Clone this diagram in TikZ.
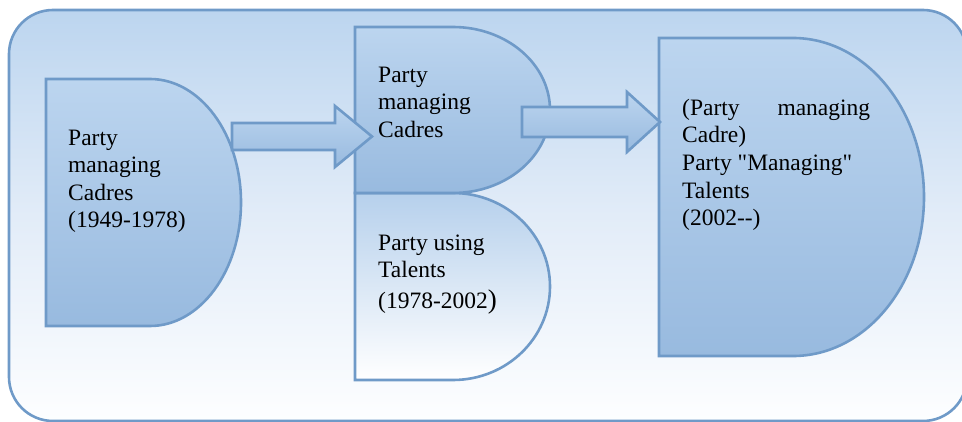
\documentclass[tikz,border=0pt]{standalone}
\usepackage{fontspec}
\setmainfont{Liberation Serif}[Ligatures=TeXOff]
\definecolor{edge}{HTML}{6F9AC8}
\definecolor{bgtop}{HTML}{BCD5EF}
\definecolor{bgmid}{HTML}{E2ECF8}
\definecolor{bgbot}{HTML}{FDFEFF}
\definecolor{dtop}{HTML}{BCD5EF}
\definecolor{dbot}{HTML}{98BADF}
\definecolor{ltop}{HTML}{B6D0EC}
\definecolor{lbot}{HTML}{FFFFFF}
\begin{document}
\begin{tikzpicture}[x=1pt,y=-1pt,
  outline/.style={draw=edge,line width=2.6pt,line join=miter},
  dfill/.style={top color=dtop,bottom color=dbot},
  lfill/.style={top color=ltop,bottom color=lbot},
  lbl/.style={anchor=north west,inner sep=0pt,align=left,text=black,
    font=\fontsize{23.5}{27.6}\selectfont}]
\useasboundingbox (0,0) rectangle (962,422);
% background panel
\draw[outline,rounded corners=44pt,top color=bgtop,bottom color=bgbot,middle color=bgmid]
  (9,10) rectangle (967,421);
% named corners of the shapes
\coordinate (d1) at (46,79);
\coordinate (d2) at (355,27);
\coordinate (d3) at (355,193);
\coordinate (d4) at (659,38);
% left D
\draw[outline,dfill] (d1) -- ++(104,0)
  arc[start angle=-90,end angle=90,x radius=91,y radius=123.5] -- ++(-104,0) -- cycle;
% middle bottom D
\draw[outline,lfill] (d3) -- ++(98,0)
  arc[start angle=-90,end angle=90,x radius=97,y radius=93.5] -- ++(-98,0) -- cycle;
% middle top D
\draw[outline,dfill] (d2) -- ++(98,0)
  arc[start angle=-90,end angle=90,x radius=97,y radius=83] -- ++(-98,0) -- cycle;
% right D
\draw[outline,dfill] (d4) -- ++(134,0)
  arc[start angle=-90,end angle=90,x radius=131,y radius=159] -- ++(-134,0) -- cycle;
% block arrows
\coordinate (a1) at (232,123);
\draw[outline,dfill] (a1) -- ++(103,0) -- ++(0,-17) -- ++(37,30.5) -- ++(-37,30.5)
  -- ++(0,-17) -- ++(-103,0) -- cycle;
\coordinate (a2) at (522,107);
\draw[outline,dfill] (a2) -- ++(105,0) -- ++(0,-15) -- ++(33,30) -- ++(-33,30)
  -- ++(0,-15) -- ++(-105,0) -- cycle;
% texts
\node[lbl] (t1) at (68,129.5) {Party\\managing\\Cadres\\(1949-1978)};
\node[lbl] (t2) at (378,66.5) {Party\\managing\\Cadres};
\node[lbl] (t3) at (378,234.5) {Party using\\Talents\\[3pt](1978-2002{\fontsize{27}{27}\selectfont )}};
\node[lbl] (t4) at (682,98.7) {\makebox[188pt][s]{(Party\hfil managing}\\Cadre)\\Party "Managing"\\Talents\\(2002--)};
\end{tikzpicture}
\end{document}
